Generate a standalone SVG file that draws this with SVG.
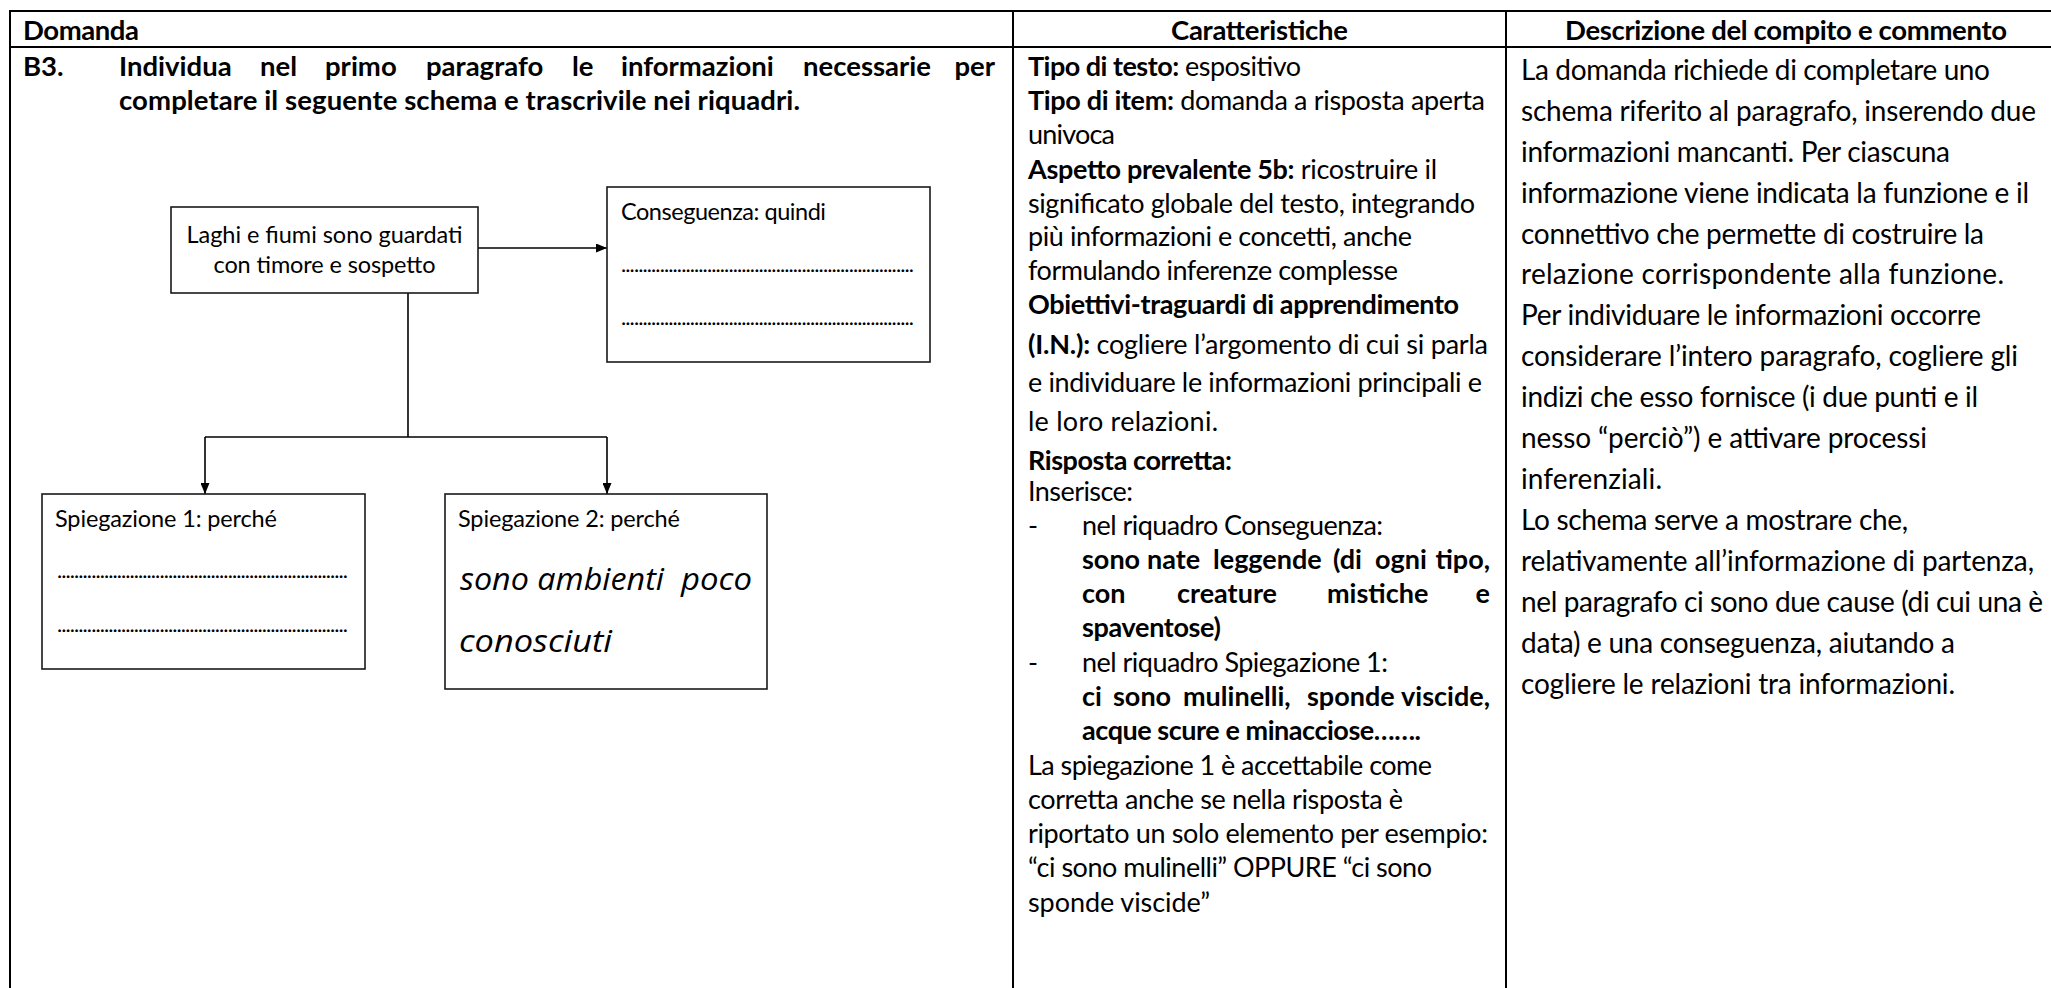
<svg xmlns="http://www.w3.org/2000/svg" width="2051" height="988" viewBox="0 0 2051 988">
<style>
.t{font-family:Lato,"Liberation Sans",sans-serif;font-size:27px;fill:#000}
.c3{font-size:28px}
.b{font-weight:bold}
.h{font-family:Lato,"Liberation Sans",sans-serif;font-size:27.5px;font-weight:bold;fill:#000}
.d{font-family:Lato,"Liberation Sans",sans-serif;font-size:23.5px;fill:#000}
.dots{font-family:Lato,"Liberation Sans",sans-serif;font-size:22px;fill:#000}
.hand{font-family:"Open Sans","DejaVu Sans",sans-serif;font-style:italic;font-weight:500;font-size:31px;fill:#000}
.grid{stroke:#000;stroke-width:2;fill:none}
.box{fill:#fff;stroke:#1a1a1a;stroke-width:1.6}
.conn{stroke:#000;stroke-width:1.6;fill:none}
</style>
<defs>
<marker id="ah" markerUnits="userSpaceOnUse" markerWidth="11" markerHeight="9" refX="11" refY="4.5" orient="auto">
<path d="M0,0 L11,4.5 L0,9 z" fill="#000"/>
</marker>
</defs>
<rect width="2051" height="988" fill="#fff"/>

<g id="table-grid">
<line class="grid" x1="9" y1="11" x2="2051" y2="11"/>
<line class="grid" x1="9" y1="47" x2="2051" y2="47"/>
<line class="grid" x1="10" y1="10" x2="10" y2="988"/>
<line class="grid" x1="1013" y1="10" x2="1013" y2="988"/>
<line class="grid" x1="1506" y1="10" x2="1506" y2="988"/>
</g>

<g id="headers">
<text class="h" x="23" y="40" textLength="116">Domanda</text>
<text class="h" x="1259.5" y="40" text-anchor="middle" textLength="177">Caratteristiche</text>
<text class="h" x="1786" y="40" text-anchor="middle" textLength="442">Descrizione del compito e commento</text>
</g>

<g id="question">
<text class="h" x="23" y="76">B3.</text>
<text class="h" y="76"><tspan x="119">Individua</tspan><tspan x="260">nel</tspan><tspan x="325">primo</tspan><tspan x="426">paragrafo</tspan><tspan x="572">le</tspan><tspan x="621">informazioni</tspan><tspan x="803">necessarie</tspan></text>
<text class="h" x="995" y="76" text-anchor="end">per</text>
<text class="h" x="119" y="110" textLength="681">completare il seguente schema e trascrivile nei riquadri.</text>
</g>

<g id="connectors">
<path class="conn" d="M478,248 H607" marker-end="url(#ah)"/>
<path class="conn" d="M408,293 V437"/>
<path class="conn" d="M205,437 H607"/>
<path class="conn" d="M205,437 V494" marker-end="url(#ah)"/>
<path class="conn" d="M607,437 V494" marker-end="url(#ah)"/>
</g>

<g id="node-laghi">
<rect class="box" x="171" y="207" width="307" height="86"/>
<text class="d" x="324.5" y="243" text-anchor="middle" textLength="276">Laghi e fiumi sono guardati</text>
<text class="d" x="324.5" y="273" text-anchor="middle" textLength="222">con timore e sospetto</text>
</g>

<g id="node-conseguenza">
<rect class="box" x="607" y="187" width="323" height="175"/>
<text class="d" x="621" y="220" textLength="205">Conseguenza: quindi</text>
<text class="dots" x="621" y="272" textLength="293">....................................................................</text>
<text class="dots" x="621" y="325" textLength="293">....................................................................</text>
</g>

<g id="node-spiegazione1">
<rect class="box" x="42" y="494" width="323" height="175"/>
<text class="d" x="55" y="527" textLength="222">Spiegazione 1: perché</text>
<text class="dots" x="57" y="578" textLength="291">....................................................................</text>
<text class="dots" x="57" y="632" textLength="291">....................................................................</text>
</g>

<g id="node-spiegazione2">
<rect class="box" x="445" y="494" width="322" height="195"/>
<text class="d" x="458" y="527" textLength="222">Spiegazione 2: perché</text>
<text class="hand" x="460" y="590" textLength="204" lengthAdjust="spacingAndGlyphs">sono ambienti</text>
<text class="hand" x="681" y="590" textLength="71" lengthAdjust="spacingAndGlyphs">poco</text>
<text class="hand" x="459" y="652" textLength="153" lengthAdjust="spacingAndGlyphs">conosciuti</text>
</g>

<g id="caratteristiche">
<text class="t" x="1028" y="76" textLength="273"><tspan class="b">Tipo di testo:</tspan> espositivo</text>
<text class="t" x="1028" y="110" textLength="457"><tspan class="b">Tipo di item:</tspan> domanda a risposta aperta</text>
<text class="t" x="1028" y="144" textLength="87">univoca</text>
<text class="t" x="1028" y="179" textLength="409"><tspan class="b">Aspetto prevalente 5b:</tspan> ricostruire il</text>
<text class="t" x="1028" y="213" textLength="447">significato globale del testo, integrando</text>
<text class="t" x="1028" y="246" textLength="384">più informazioni e concetti, anche</text>
<text class="t" x="1028" y="280" textLength="370">formulando inferenze complesse</text>
<text class="t b" x="1028" y="314" textLength="431">Obiettivi-traguardi di apprendimento</text>
<text class="t" x="1028" y="354" textLength="460"><tspan class="b">(I.N.):</tspan> cogliere l’argomento di cui si parla</text>
<text class="t" x="1028" y="392" textLength="454">e individuare le informazioni principali e</text>
<text class="t" x="1028" y="431" textLength="190">le loro relazioni.</text>
<text class="t b" x="1028" y="470" textLength="204">Risposta corretta:</text>
<text class="t" x="1028" y="501" textLength="105">Inserisce:</text>
<text class="t" x="1028" y="535">-</text>
<text class="t" x="1082" y="535" textLength="301">nel riquadro Conseguenza:</text>
<text class="t b" y="569"><tspan x="1082">sono</tspan><tspan x="1147">nate</tspan><tspan x="1213">leggende</tspan><tspan x="1333">(di</tspan><tspan x="1375">ogni</tspan></text>
<text class="t b" x="1490" y="569" text-anchor="end">tipo,</text>
<text class="t b" y="603"><tspan x="1082">con</tspan><tspan x="1177">creature</tspan><tspan x="1327">mistiche</tspan></text>
<text class="t b" x="1490" y="603" text-anchor="end">e</text>
<text class="t b" x="1082" y="637" textLength="139">spaventose)</text>
<text class="t" x="1028" y="672">-</text>
<text class="t" x="1082" y="672" textLength="306">nel riquadro Spiegazione 1:</text>
<text class="t b" y="706"><tspan x="1082">ci</tspan><tspan x="1113">sono</tspan><tspan x="1183">mulinelli,</tspan><tspan x="1307">sponde</tspan></text>
<text class="t b" x="1490" y="706" text-anchor="end">viscide,</text>
<text class="t b" x="1082" y="740" textLength="339">acque scure e minacciose…….</text>
<text class="t" x="1028" y="775" textLength="404">La spiegazione 1 è accettabile come</text>
<text class="t" x="1028" y="809" textLength="375">corretta anche se nella risposta è</text>
<text class="t" x="1028" y="843" textLength="460">riportato un solo elemento per esempio:</text>
<text class="t" x="1028" y="877" textLength="404">“ci sono mulinelli” OPPURE “ci sono</text>
<text class="t" x="1028" y="912" textLength="182">sponde viscide”</text>
</g>

<g id="descrizione">
<text class="t c3" x="1521" y="80" textLength="469">La domanda richiede di completare uno</text>
<text class="t c3" x="1521" y="121" textLength="515">schema riferito al paragrafo, inserendo due</text>
<text class="t c3" x="1521" y="162" textLength="429">informazioni mancanti. Per ciascuna</text>
<text class="t c3" x="1521" y="203" textLength="508">informazione viene indicata la funzione e il</text>
<text class="t c3" x="1521" y="244" textLength="463">connettivo che permette di costruire la</text>
<text class="t c3" x="1521" y="284" textLength="483">relazione corrispondente alla funzione.</text>
<text class="t c3" x="1521" y="325" textLength="460">Per individuare le informazioni occorre</text>
<text class="t c3" x="1521" y="366" textLength="497">considerare l’intero paragrafo, cogliere gli</text>
<text class="t c3" x="1521" y="407" textLength="457">indizi che esso fornisce (i due punti e il</text>
<text class="t c3" x="1521" y="448" textLength="406">nesso “perciò”) e attivare processi</text>
<text class="t c3" x="1521" y="489" textLength="141">inferenziali.</text>
<text class="t c3" x="1521" y="530" textLength="387">Lo schema serve a mostrare che,</text>
<text class="t c3" x="1521" y="571" textLength="513">relativamente all’informazione di partenza,</text>
<text class="t c3" x="1521" y="612" textLength="522">nel paragrafo ci sono due cause (di cui una è</text>
<text class="t c3" x="1521" y="653" textLength="434">data) e una conseguenza, aiutando a</text>
<text class="t c3" x="1521" y="694" textLength="434">cogliere le relazioni tra informazioni.</text>
</g>
</svg>
